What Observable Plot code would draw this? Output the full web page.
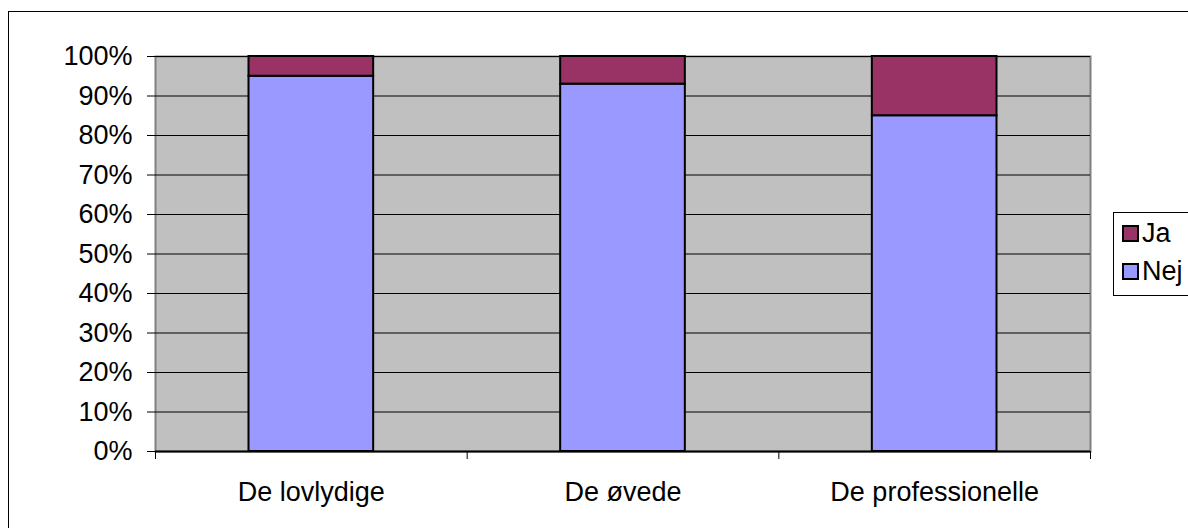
<!DOCTYPE html>
<html>
<head>
<meta charset="utf-8">
<script src="https://cdn.jsdelivr.net/npm/d3@7"></script>
<script src="https://cdn.jsdelivr.net/npm/@observablehq/plot@0.6"></script>
<style>
  html, body { margin: 0; padding: 0; background: #fff; }
  #wrap { position: relative; width: 1188px; height: 528px; overflow: hidden; font-family: "Liberation Sans", Arial, sans-serif; }
  #border { position: absolute; left: 8px; top: 11px; width: 1300px; height: 700px; border: 1.5px solid #000; box-sizing: border-box; }
  #chart { position: absolute; left: 0; top: 0; }
  #legend { position: absolute; left: 1113px; top: 212px; width: 120px; height: 84px; border: 1px solid #000; background: #fff; box-sizing: border-box; font-size: 27px; }
  .item { position: absolute; left: 8px; display: flex; align-items: center; line-height: 30px; }
  .sw { width: 17px; height: 17px; border: 2px solid #000; margin-right: 3px; box-sizing: border-box; }
</style>
</head>
<body>
<div id="wrap">
  <div id="border"></div>
  <div id="chart"></div>
  <div id="legend"></div>
</div>
<script>
const categories = ["De lovlydige", "De øvede", "De professionelle"];
const nej = [95, 93, 85];
const ja = [5, 7, 15];
const seriesNames = ["Ja", "Nej"];
const seriesColors = ["#993366", "#9999FF"];
const yTicks = [0, 10, 20, 30, 40, 50, 60, 70, 80, 90, 100];

const rows = [];
categories.forEach((c, i) => {
  rows.push({cat: c, i, series: "Nej", y1: 0, y2: nej[i]});
  rows.push({cat: c, i, series: "Ja", y1: nej[i], y2: nej[i] + ja[i]});
});
const boundaries = d3.range(categories.length + 1);
const centers = categories.map((c, i) => i + 0.5);

const chart = Plot.plot({
  width: 1188,
  height: 528,
  marginLeft: 155,
  marginRight: 98,
  marginTop: 56,
  marginBottom: 77,
  style: { fontFamily: "'Liberation Sans', Arial, sans-serif", fontSize: "27px", color: "#000", background: "transparent", overflow: "visible" },
  x: { type: "linear", domain: [0, categories.length] },
  y: { domain: [0, 100] },
  color: { domain: seriesNames, range: seriesColors },
  marks: [
    Plot.frame({ fill: "#C0C0C0", stroke: "#808080", strokeWidth: 2 }),
    Plot.ruleY(yTicks, { stroke: "#000", strokeWidth: 1 }),
    Plot.rectY(rows, { x1: d => d.i + 0.3, x2: d => d.i + 0.7, y1: "y1", y2: "y2", fill: "series", stroke: "#000", strokeWidth: 2 }),
    Plot.ruleY([0], { stroke: "#000", strokeWidth: 2 }),
    Plot.axisY({ ticks: yTicks, tickFormat: d => d + "%", tickSize: 8, tickPadding: 15, stroke: "#000" }),
    Plot.axisX({ ticks: boundaries, tickFormat: () => "", tickSize: 8, stroke: "#000" }),
    Plot.axisX({ ticks: centers, tickFormat: (d) => categories[Math.floor(d)], tickSize: 0, tickPadding: 30 }),
  ]
});
document.getElementById("chart").appendChild(chart);

const legend = document.getElementById("legend");
seriesNames.forEach((s, k) => {
  const it = document.createElement("div");
  it.className = "item";
  it.style.top = (5 + k * 38) + "px";
  it.innerHTML = `<div class="sw" style="background:${seriesColors[k]}"></div><span>${s}</span>`;
  legend.appendChild(it);
});
</script>
</body>
</html>
